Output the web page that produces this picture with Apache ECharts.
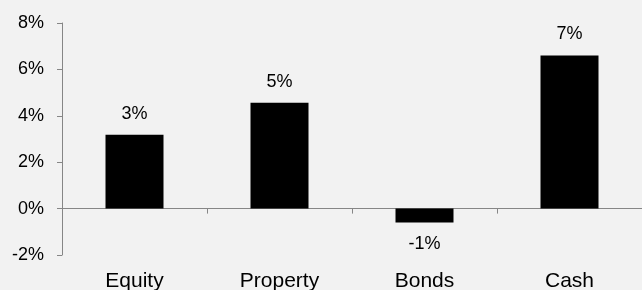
<!DOCTYPE html>
<html><head><meta charset="utf-8">
<script src="https://cdn.jsdelivr.net/npm/echarts@6/dist/echarts.min.js"></script>
<style>html,body{margin:0;padding:0;background:#f2f2f2}#c{width:642px;height:290px}</style>
</head><body><div id="c"></div>
<script>
const categories = ['Equity', 'Property', 'Bonds', 'Cash'];
const returnsPct = [3.18, 4.56, -0.6, 6.6];
const yTicks = { min: -2, max: 8, interval: 2 };

const chart = echarts.init(document.getElementById('c'), null, { renderer: 'canvas' });
const axisGray = '#868686';
const font = 'Liberation Sans, Arial, sans-serif';
chart.setOption({
  backgroundColor: '#f2f2f2',
  animation: false,
  grid: { left: 62, right: 0, top: 23, bottom: 35, containLabel: false, outerBoundsMode: 'none' },
  xAxis: [
    {
      type: 'category', data: categories,
      axisLine: { show: true, onZero: true, lineStyle: { color: axisGray, width: 1 } },
      axisTick: { show: true, length: 5, lineStyle: { color: axisGray } },
      axisLabel: { show: false }
    },
    {
      type: 'category', data: categories, position: 'bottom',
      axisLine: { show: false, onZero: false },
      axisTick: { show: false },
      axisLabel: { show: true, margin: 16, color: '#000', fontSize: 21, fontFamily: font }
    }
  ],
  yAxis: {
    type: 'value', min: yTicks.min, max: yTicks.max, interval: yTicks.interval,
    splitLine: { show: false },
    axisLine: { show: true, lineStyle: { color: axisGray, width: 1 } },
    axisTick: { show: true, length: 5, lineStyle: { color: axisGray } },
    axisLabel: { margin: 18, color: '#000', fontSize: 18, fontFamily: font, formatter: v => v + '%' }
  },
  series: [{
    type: 'bar', xAxisIndex: 0, barWidth: '40%',
    itemStyle: { color: '#000' },
    label: {
      show: true, color: '#000', fontSize: 18, fontFamily: font,
      formatter: p => Math.round(p.value) + '%'
    },
    data: returnsPct.map(v => ({
      value: v,
      label: { position: v < 0 ? 'bottom' : 'top', distance: v < 0 ? 13 : 12 }
    }))
  }]
});
</script></body></html>
